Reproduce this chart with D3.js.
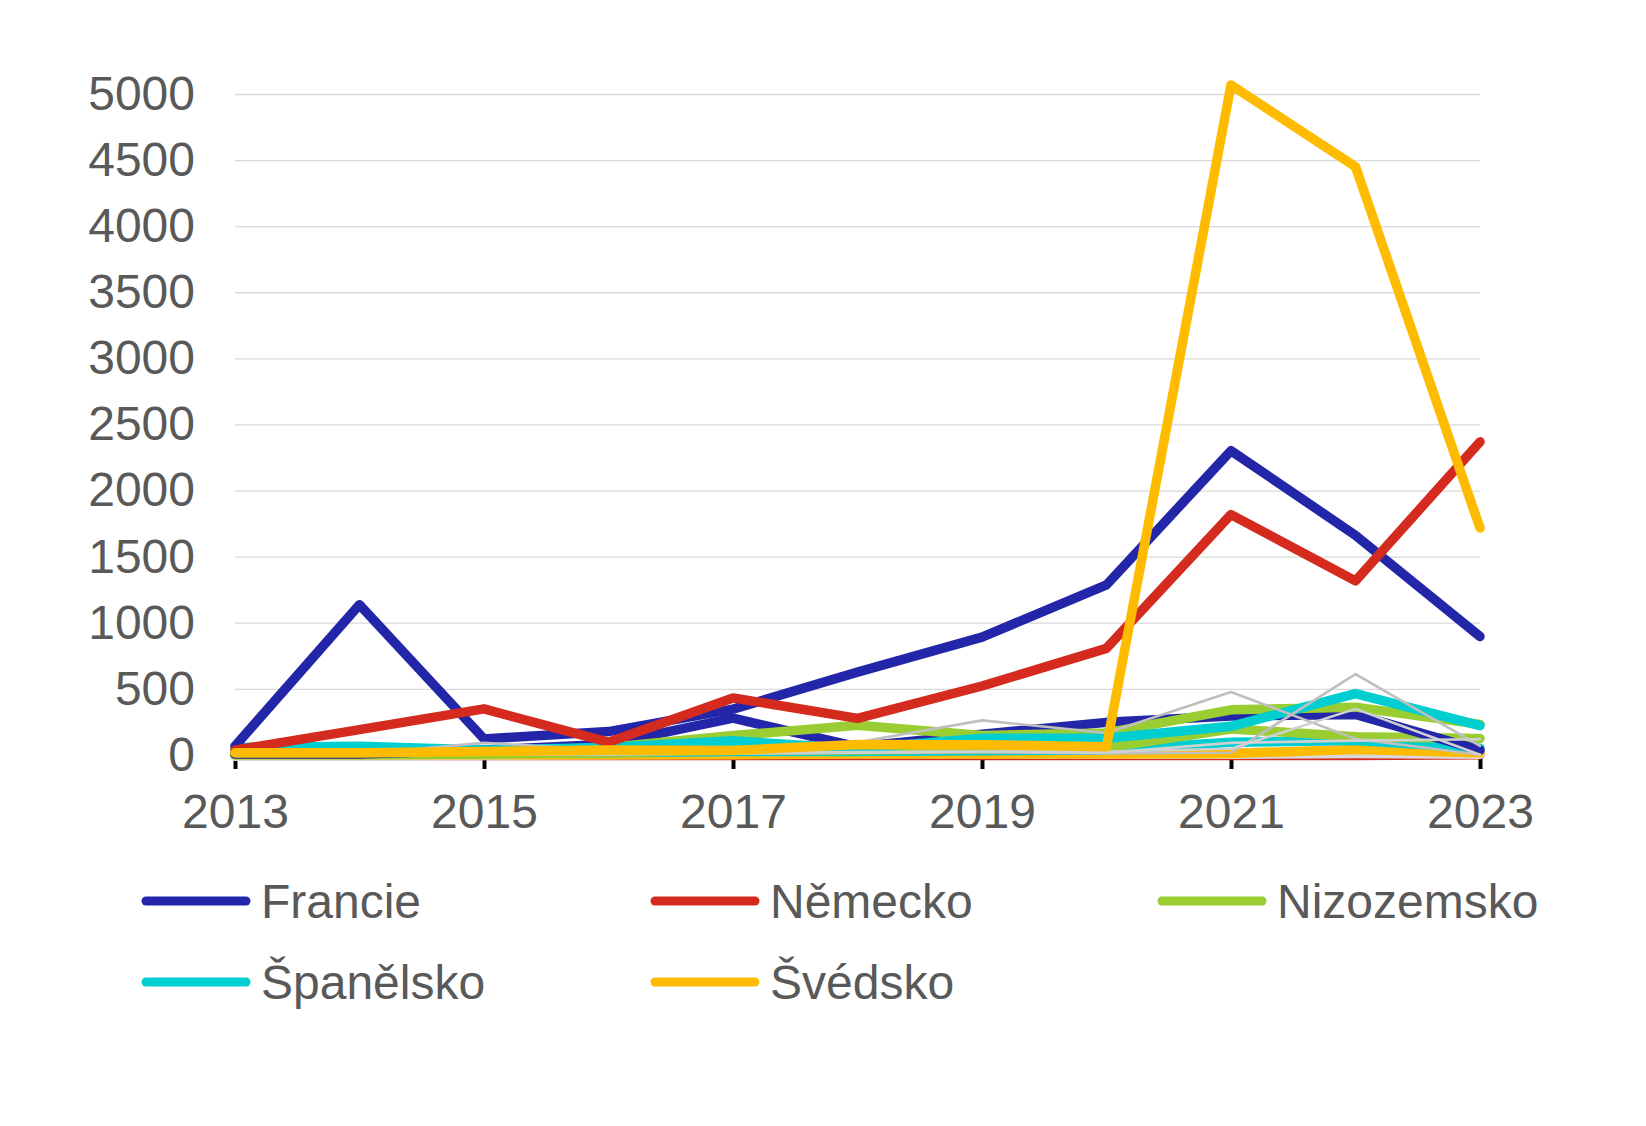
<!DOCTYPE html>
<html>
<head>
<meta charset="utf-8">
<script src="https://cdn.jsdelivr.net/npm/d3@7"></script>
<style>
  html, body { margin: 0; padding: 0; background: #ffffff; }
  svg { display: block; }
  text { font-family: "Liberation Sans", Arial, sans-serif; fill: #595959; }
</style>
</head>
<body>
<div id="chart"></div>
<script>
// ---- data ----
const years = [2013, 2014, 2015, 2016, 2017, 2018, 2019, 2020, 2021, 2022, 2023];
const xTickYears = [2013, 2015, 2017, 2019, 2021, 2023];
const yTicks = [0, 500, 1000, 1500, 2000, 2500, 3000, 3500, 4000, 4500, 5000];

// named (legend) series
const francie    = [70, 1140, 125, 180, 350, 630, 895, 1290, 2305, 1665, 900];
const nemecko    = [40, 195, 352, 100, 435, 280, 525, 810, 1822, 1320, 2372];
const nizozemsko = [20, 20, 30, 60, 150, 228, 150, 170, 345, 365, 235];
const spanelsko  = [60, 70, 40, 60, 110, 50, 130, 130, 220, 468, 225];
const svedsko    = [20, 20, 30, 40, 38, 82, 80, 66, 5072, 4454, 1720];

// secondary series in the same colours (not in legend)
const francie2    = [10, 10, 40, 85, 282, 65, 160, 250, 298, 310, 40];
const nemecko2    = [0, 0, 0, 0, 0, 0, 0, 0, 0, 0, 5];
const nizozemsko2 = [5, 5, 10, 20, 40, 40, 50, 60, 200, 142, 128];
const spanelsko2  = [15, 15, 15, 20, 30, 30, 35, 40, 100, 112, 55];
const svedsko2    = [5, 5, 5, 5, 5, 10, 10, 10, 15, 45, 20];

// other countries (grey)
const other1 = [10, 10, 95, 40, 50, 100, 265, 170, 480, 125, 5];
const other2 = [5, 5, 10, 10, 15, 20, 25, 15, 20, 615, 72];
const other3 = [5, 5, 10, 10, 15, 20, 30, 30, 50, 352, 5];
const other4 = [5, 5, 10, 15, 20, 25, 30, 20, 95, 112, 122];
const otherBase = [0, 0, 5, 10, 15, 18, 18, 15, 15, 20, 15];

const legendNames = ["Francie", "Německo", "Nizozemsko", "Španělsko", "Švédsko"];
const legendColors = ["#2326A8", "#D52B1E", "#9ACD32", "#00CED1", "#FFBB00"];

// ---- layout ----
const W = 1646, H = 1126;
const svg = d3.select("#chart").append("svg").attr("width", W).attr("height", H);

const x = d3.scaleLinear().domain([2013, 2023]).range([235, 1480]);
const y = d3.scaleLinear().domain([0, 5000]).range([755.4, 94.5]);

// gridlines
svg.append("g").selectAll("line").data(yTicks).join("line")
  .attr("x1", x(2013)).attr("x2", x(2023))
  .attr("y1", d => y(d)).attr("y2", d => y(d))
  .attr("stroke", "#D9D9D9").attr("stroke-width", 1.3);

// y axis labels
const yAxis = d3.axisLeft(y).tickValues(yTicks).tickSize(0).tickPadding(0).tickFormat(d3.format("d"));
const yg = svg.append("g").attr("transform", `translate(${195},0)`).call(yAxis);
yg.select(".domain").remove();
yg.selectAll("text").attr("font-size", 48).attr("fill", "#595959")
  .attr("font-family", "Liberation Sans, Arial, sans-serif")
  .attr("dy", "0.31em");

// x axis ticks + labels
const xAxis = d3.axisBottom(x).tickValues(xTickYears).tickSize(12).tickPadding(25).tickFormat(d3.format("d"));
const xg = svg.append("g").attr("transform", `translate(0,${757})`).call(xAxis);
xg.select(".domain").remove();
xg.selectAll(".tick line").attr("stroke", "#000").attr("stroke-width", 4);
xg.selectAll("text").attr("font-size", 48).attr("fill", "#595959")
  .attr("font-family", "Liberation Sans, Arial, sans-serif");

// lines
const line = d3.line().x((d, i) => x(years[i])).y(d => y(d));
const plot = svg.append("g");
function draw(vals, color, width) {
  plot.append("path").attr("d", line(vals))
    .attr("fill", "none").attr("stroke", color).attr("stroke-width", width)
    .attr("stroke-linejoin", "round").attr("stroke-linecap", "round");
}
const TH = 9.5;
draw(nemecko2, legendColors[1], TH);
draw(otherBase, "#D9D9D9", 11);
draw(svedsko2, legendColors[4], TH);
draw(spanelsko2, legendColors[3], TH);
draw(nizozemsko2, legendColors[2], TH);
draw(francie2, legendColors[0], TH);
draw(nizozemsko, legendColors[2], TH);
draw(spanelsko, legendColors[3], TH);
draw(francie, legendColors[0], TH);
draw(nemecko, legendColors[1], TH);
draw(other1, "#BFBFBF", 2.6);
draw(other2, "#BFBFBF", 2.6);
draw(other3, "#D0D0D0", 2.6);
draw(other4, "#D0D0D0", 2.6);
draw(svedsko, legendColors[4], TH);

// legend
const legendPos = [
  {lx: 142, ly: 901}, {lx: 651, ly: 901}, {lx: 1158, ly: 901},
  {lx: 142, ly: 982}, {lx: 651, ly: 982}
];
const lg = svg.append("g");
legendNames.forEach((name, i) => {
  const p = legendPos[i];
  lg.append("line").attr("x1", p.lx + 4).attr("x2", p.lx + 104)
    .attr("y1", p.ly).attr("y2", p.ly)
    .attr("stroke", legendColors[i]).attr("stroke-width", 9).attr("stroke-linecap", "round");
  lg.append("text").attr("x", p.lx + 119).attr("y", p.ly + 17)
    .attr("font-size", 48).text(name);
});
</script>
</body>
</html>
